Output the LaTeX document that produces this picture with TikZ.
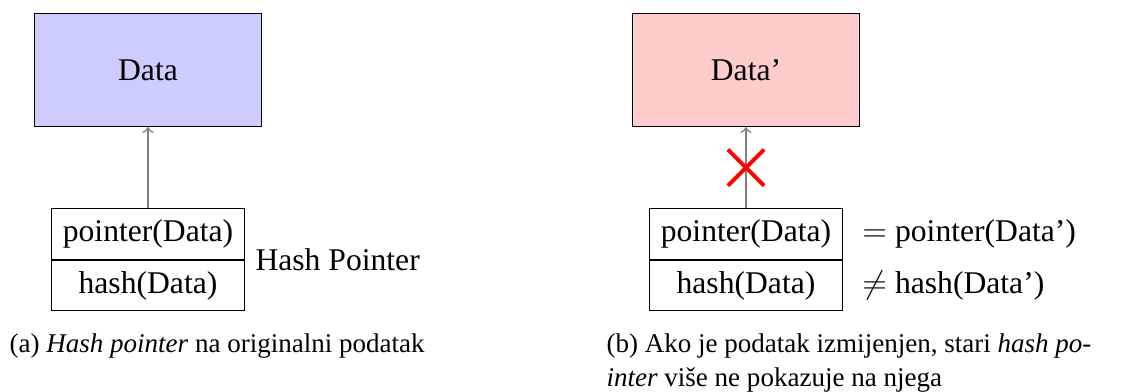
\documentclass[tikz,border=0pt]{standalone}
\usepackage{fontspec}
\setmainfont{LiberationSerif}[Extension=.ttf, UprightFont=*-Regular, ItalicFont=*-Italic,
  BoldFont=*-Bold, BoldItalicFont=*-BoldItalic, Ligatures=TeX]
\usetikzlibrary{positioning,shapes.misc}
\tikzstyle{databox}=[rectangle, draw=black, minimum width=84pt, minimum height=41.8pt,
                    inner sep=2pt, text centered, font=\fontsize{11.7}{14}\selectfont]
\tikzstyle{cellbox}=[rectangle, draw=black, minimum width=71.4pt, minimum height=18.7pt,
                    inner sep=2pt, text centered, font=\fontsize{11.7}{14}\selectfont]
\tikzstyle{plabel}=[inner sep=0pt, font=\fontsize{11.7}{14}\selectfont]
\tikzstyle{caplabel}=[inner sep=0pt, align=left, font=\fontsize{10}{12.6}\selectfont]
\tikzstyle{pline}=[->, gray, semithick]
\tikzstyle{xmark}=[cross out, draw=red, line width=1.4pt, minimum size=12pt, inner sep=0pt]

\begin{document}
\begin{tikzpicture}[x=0.37pt, y=-0.37pt]
\useasboundingbox (0,0) rectangle (1135,391);

\node (DATA) [databox, fill=blue!20] at (148,70) {Data};
\node (PTRA) [cellbox] at (148,234) {pointer(Data)};
\node (HASHA) [cellbox, below=0pt of PTRA] {hash(Data)};
\node (HPLABEL) [plabel, right=3.7pt of PTRA.south east] {Hash Pointer};
 \draw[pline] (PTRA.north) -- (DATA.south);
\node (CAPA) [caplabel, anchor=north west] at (9,333) {(a) \textit{Hash pointer} na originalni podatak};

\node (DATAB) [databox, fill=red!20] at (746,70) {Data'};
\node (PTRB) [cellbox] at (746,234) {pointer(Data)};
\node (HASHB) [cellbox, below=0pt of PTRB] {hash(Data)};
\node (EQB) [plabel, right=7pt of PTRB] {$=$ pointer(Data')};
\node (NEQB) [plabel, right=7pt of HASHB] {$\neq$ hash(Data')};
 \draw[pline] (PTRB.north) -- node[xmark] (CROSS) {} (DATAB.south);
\node (CAPB) [caplabel, anchor=north west] at (606,333) {(b) Ako je podatak izmijenjen, stari \textit{hash po-}\\\textit{inter} više ne pokazuje na njega};

\end{tikzpicture}
\end{document}
